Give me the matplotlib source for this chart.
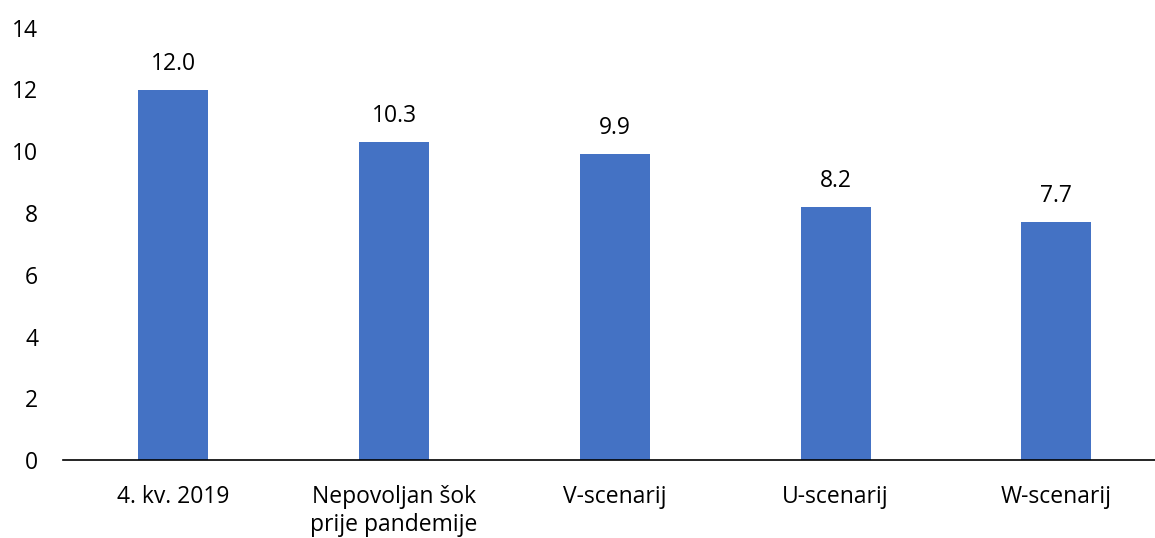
import matplotlib
matplotlib.use("Agg")
import matplotlib.pyplot as plt

categories = ["4. kv. 2019", "Nepovoljan šok\nprije pandemije", "V-scenarij", "U-scenarij", "W-scenarij"]
values = [12.0, 10.3, 9.9, 8.2, 7.7]
yticks = [0, 2, 4, 6, 8, 10, 12, 14]

plt.rcParams['font.family'] = ['Open Sans', 'DejaVu Sans']

W, H = 1155, 538
fig = plt.figure(figsize=(W / 100, H / 100), dpi=100)
left, right = 63, 1166.75
bottom, top = 460, 27.75
ax = fig.add_axes([left / W, 1 - bottom / H, (right - left) / W, (bottom - top) / H])

FS = 16.5
x = list(range(len(categories)))
bars = ax.bar(x, values, width=0.317, color="#4472C4", zorder=2)
for xi, v in zip(x, values):
    ax.annotate(f"{v:.1f}", (xi, v), xytext=(0, 10), textcoords="offset points",
                ha="center", va="bottom", fontsize=FS, color="#000000")

ax.set_xlim(-0.5, len(categories) - 0.5)
ax.set_ylim(0, 14)
ax.set_yticks(yticks)
ax.set_yticklabels([str(t) for t in yticks])
ax.set_xticks(x)
ax.set_xticklabels(categories, linespacing=1.2)
ax.tick_params(axis="both", length=0, labelsize=FS, colors="#000000")
ax.tick_params(axis="y", pad=18)
ax.tick_params(axis="x", pad=18)
for s in ["top", "right", "left"]:
    ax.spines[s].set_visible(False)
ax.spines["bottom"].set_color("#000000")
ax.spines["bottom"].set_linewidth(1.2)

fig.savefig("out.png", dpi=100)
